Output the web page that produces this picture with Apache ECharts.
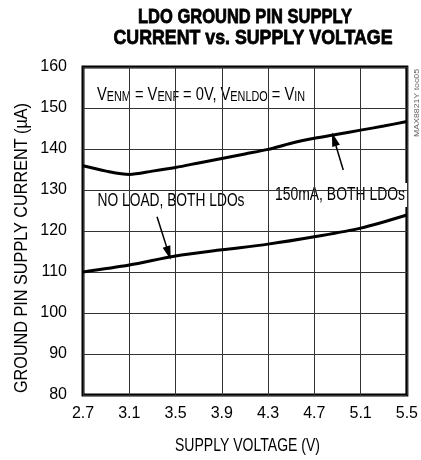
<!DOCTYPE html>
<html>
<head>
<meta charset="utf-8">
<script src="https://cdn.jsdelivr.net/npm/echarts@6/dist/echarts.min.js"></script>
<style>
html, body { margin: 0; padding: 0; background: #fff; }
#main { width: 421px; height: 460px; }
</style>
</head>
<body>
<div id="main"></div>
<script>
// tick labels
var xTicks = [2.7, 3.1, 3.5, 3.9, 4.3, 4.7, 5.1, 5.5];
var yTicks = [80, 90, 100, 110, 120, 130, 140, 150, 160];

// 150mA, both LDOs
var loadV = [2.7, 2.9, 3.1, 3.3, 3.5, 3.7, 3.9, 4.1, 4.3, 4.5, 4.7, 4.9, 5.1, 5.3, 5.5];
var loadI = [135.9, 134.6, 133.8, 134.6, 135.5, 136.6, 137.7, 138.8, 139.9, 141.4, 142.6, 143.6, 144.6, 145.6, 146.7];

// no load, both LDOs
var noLoadV = [2.7, 3.1, 3.5, 3.9, 4.3, 4.7, 5.1, 5.5];
var noLoadI = [110, 111.7, 113.9, 115.4, 116.8, 118.6, 120.7, 123.9];

var FONT = '"Liberation Sans", Arial, sans-serif';

function pairs(xs, ys) {
	var out = [];
	for (var i = 0; i < xs.length; i++) out.push([xs[i], ys[i]]);
	return out;
}

// measure text so it can be squeezed to the narrow look of the original
var ctx = document.createElement('canvas').getContext('2d');
function textW(str, size, bold) {
	ctx.font = (bold ? 'bold ' : '') + size + 'px "Liberation Sans", Arial, sans-serif';
	return ctx.measureText(str).width;
}
function squeeze(str, size, bold, target) {
	return target / textW(str, size, bold);
}

// condition text, rich segments [text, isSub]
var condParts = [['V', 0], ['ENM', 1], [' = V', 0], ['ENF', 1], [' = 0V, V', 0], ['ENLDO', 1], [' = V', 0], ['IN', 1]];
var condRich = '', condW = 0;
condParts.forEach(function (p) {
	condRich += '{' + (p[1] ? 's' : 'a') + '|' + p[0] + '}';
	condW += textW(p[0], p[1] ? 14 : 19, false);
});

var title1 = 'LDO GROUND PIN SUPPLY';
var title2 = 'CURRENT vs. SUPPLY VOLTAGE';
var yName = 'GROUND PIN SUPPLY CURRENT (µA)';
var xName = 'SUPPLY VOLTAGE (V)';
var noLoadLabel = 'NO LOAD, BOTH LDOs';
var loadLabel = '150mA, BOTH LDOs';

function sText(str, x, y, size, bold, target, extra) {
	var el = {
		type: 'text',
		x: x,
		y: y,
		scaleX: squeeze(str, size, bold, target),
		style: {
			text: str,
			font: (bold ? 'bold ' : '') + size + 'px ' + FONT,
			fill: '#000',
			align: 'center',
			verticalAlign: 'middle'
		}
	};
	if (extra) {
		for (var k in extra) el.style[k] = extra[k];
	}
	return el;
}

var chart = echarts.init(document.getElementById('main'));

var yLabel = sText(yName, 22, 248, 18, false, 290);
yLabel.rotation = Math.PI / 2;

var sideLabel = sText('MAX8821Y toc05', 417, 103, 8, false, 68, { fill: '#666' });
sideLabel.rotation = Math.PI / 2;

// heavier title, like the condensed black face of the original
var boldTitle = { stroke: '#000', lineWidth: 0.8 };

var option = {
	animation: false,
	grid: {
		left: 83,
		right: 8,
		top: 67,
		bottom: 65,
		show: true,
		borderColor: '#000',
		borderWidth: 3
	},
	xAxis: {
		type: 'value',
		min: xTicks[0],
		max: xTicks[xTicks.length - 1],
		interval: 0.4,
		axisLine: { show: false },
		axisTick: { show: false },
		axisLabel: {
			margin: 11,
			fontFamily: FONT,
			fontSize: 16,
			color: '#000',
			formatter: function (v) { return v.toFixed(1); }
		},
		splitLine: { show: true, lineStyle: { color: '#333', width: 1 } }
	},
	yAxis: {
		type: 'value',
		min: yTicks[0],
		max: yTicks[yTicks.length - 1],
		interval: 10,
		axisLine: { show: false },
		axisTick: { show: false },
		axisLabel: {
			margin: 16,
			fontFamily: FONT,
			fontSize: 16,
			color: '#000'
		},
		splitLine: { show: true, lineStyle: { color: '#333', width: 1 } }
	},
	graphic: [
		sText(title1, 245, 17, 21, true, 214, boldTitle),
		sText(title2, 253, 38, 21, true, 279, boldTitle),
		sText(xName, 247.5, 446, 18, false, 145),
		yLabel,
		sideLabel,
		{
			type: 'text',
			x: 97,
			y: 95,
			scaleX: 208 / condW,
			style: {
				text: condRich,
				verticalAlign: 'middle',
				rich: {
					a: { fontFamily: FONT, fontSize: 19, color: '#000' },
					s: { fontFamily: FONT, fontSize: 14, color: '#000', padding: [5, 0, 0, 0] }
				}
			}
		},
		sText(noLoadLabel, 171, 201, 18, false, 147, { backgroundColor: '#fff', padding: [5, 3, 3, 3] }),
		sText(loadLabel, 340, 195, 18, false, 130, { backgroundColor: '#fff', padding: [3, 3, 3, 3] })
	],
	series: [
		{
			name: loadLabel,
			type: 'line',
			data: pairs(loadV, loadI),
			smooth: 0.3,
			showSymbol: false,
			lineStyle: { color: '#000', width: 3 },
			z: 5,
			markLine: {
				silent: true,
				symbol: ['none', 'triangle'],
				symbolSize: [8, 14],
				label: { show: false },
				lineStyle: { color: '#000', width: 1.5, type: 'solid' },
				data: [[{ coord: [4.95, 134.9] }, { coord: [4.87, 142.4] }]]
			}
		},
		{
			name: noLoadLabel,
			type: 'line',
			data: pairs(noLoadV, noLoadI),
			smooth: 0.3,
			showSymbol: false,
			lineStyle: { color: '#000', width: 3 },
			z: 5,
			markLine: {
				silent: true,
				symbol: ['none', 'triangle'],
				symbolSize: [8, 14],
				label: { show: false },
				lineStyle: { color: '#000', width: 1.5, type: 'solid' },
				data: [[{ coord: [3.34, 123.5] }, { coord: [3.44, 114.6] }]]
			}
		}
	]
};

chart.setOption(option);
</script>
</body>
</html>
